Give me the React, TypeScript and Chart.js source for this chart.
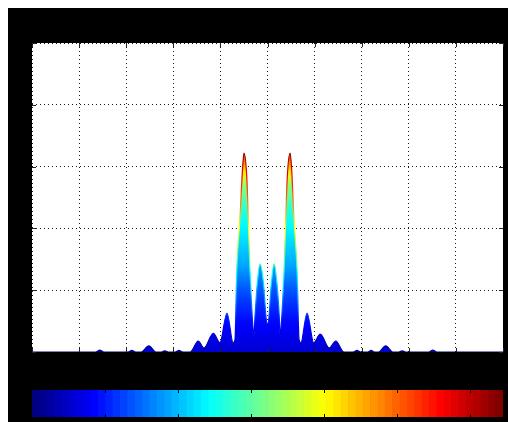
import React, { useEffect, useRef } from "react";
import { Chart, registerables } from "chart.js";

Chart.register(...registerables);

// Profile (x position, height)
const X_VALUES = [
  -5.0, -3.64, -3.56, -3.48, -2.96, -2.88, -2.8, -2.68, -2.52, -2.37, -2.25, -2.18, -2.11,
  -1.96, -1.88, -1.8, -1.64, -1.47, -1.35, -1.15, -1.01, -0.86, -0.73, -0.69, -0.654, -0.584,
  -0.527, -0.499, -0.44, -0.37, -0.31, -0.29, -0.265, -0.216, -0.16, -0.09, -0.03, 0.0,
  0.03, 0.08, 0.14, 0.2, 0.25, 0.27, 0.29, 0.35, 0.42, 0.48, 0.51, 0.56, 0.63, 0.67, 0.71,
  0.84, 0.98, 1.12, 1.31, 1.45, 1.62, 1.82, 1.9, 1.98, 2.13, 2.2, 2.27, 2.36, 2.51, 2.66,
  2.79, 2.86, 2.93, 3.43, 3.51, 3.59, 5.0,
];
const Y_VALUES = [
  0, 0, 0.006, 0, 0, 0.005, 0, 0, 0.02, 0, 0, 0.004, 0,
  0, 0.005, 0, 0, 0.035, 0.013, 0.06, 0.03, 0.126, 0.03, 0.04, 0.256, 0.437,
  0.599, 0.644, 0.566, 0.256, 0.081, 0.05, 0.113, 0.224, 0.285, 0.23, 0.11, 0.09,
  0.11, 0.22, 0.285, 0.224, 0.113, 0.05, 0.081, 0.256, 0.566, 0.644, 0.599, 0.437, 0.256, 0.04, 0.03,
  0.126, 0.03, 0.058, 0.013, 0.035, 0, 0, 0.005, 0, 0, 0.005, 0, 0, 0.02, 0,
  0, 0.004, 0, 0, 0.006, 0, 0,
];

const X_MIN = -5;
const X_MAX = 5;
const X_STEP = 1;
const Y_MIN = 0;
const Y_MAX = 1;
const Y_STEP = 0.2;

const COLOR_MAX = 0.645;
const COLORBAR_TICKS = [0.1, 0.2, 0.3, 0.4, 0.5, 0.6];
const COLORMAP_LEVELS = 64;

// shading curve for the surface fill (height fraction -> colormap position)
const FILL_SHADE: [number, number][] = [
  [0, 0.08], [0.15, 0.13], [0.3, 0.2], [0.44, 0.29], [0.7, 0.4], [0.85, 0.53], [1, 0.85],
];

function clamp(v: number) {
  return Math.max(0, Math.min(1, v));
}
function jet(t: number) {
  const r = clamp(Math.min(4 * t - 1.5, -4 * t + 4.5));
  const g = clamp(Math.min(4 * t - 0.5, -4 * t + 3.5));
  const b = clamp(Math.min(4 * t + 0.5, -4 * t + 2.5));
  return `rgb(${Math.round(r * 255)},${Math.round(g * 255)},${Math.round(b * 255)})`;
}
function shade(t: number) {
  for (let i = 1; i < FILL_SHADE.length; i++) {
    const [a0, b0] = FILL_SHADE[i - 1];
    const [a1, b1] = FILL_SHADE[i];
    if (t <= a1) return b0 + ((t - a0) / (a1 - a0)) * (b1 - b0);
  }
  return FILL_SHADE[FILL_SHADE.length - 1][1];
}

function verticalGradient(chart: any, fn: (t: number) => string) {
  const area = chart.chartArea;
  if (!area) return "blue";
  const ys = chart.scales.y;
  const y0 = ys.getPixelForValue(0);
  const y1 = ys.getPixelForValue(COLOR_MAX);
  const g = chart.ctx.createLinearGradient(0, y0, 0, y1);
  const n = 32;
  for (let i = 0; i <= n; i++) {
    const t = i / n;
    g.addColorStop(t, fn(t));
  }
  return g;
}

const backgroundPlugin = {
  id: "figBackground",
  beforeDraw(chart: any) {
    const { ctx, chartArea, width, height } = chart;
    ctx.save();
    ctx.fillStyle = "#000";
    ctx.fillRect(0, 0, width, height);
    if (chartArea && chart.config.options.plugins.figBackground?.white) {
      ctx.fillStyle = "#fff";
      ctx.fillRect(chartArea.left, chartArea.top, chartArea.right - chartArea.left, chartArea.bottom - chartArea.top);
    }
    ctx.restore();
  },
};

const axisTicksPlugin = {
  id: "boxTicks",
  afterDatasetsDraw(chart: any) {
    const { ctx, chartArea: a } = chart;
    ctx.save();
    ctx.strokeStyle = "#222";
    ctx.lineWidth = 1;
    const xs = chart.scales.x;
    const ys = chart.scales.y;
    for (let v = X_MIN; v <= X_MAX; v += X_STEP) {
      const px = Math.round(xs.getPixelForValue(v)) + 0.5;
      ctx.beginPath();
      ctx.moveTo(px, a.bottom);
      ctx.lineTo(px, a.bottom - 4);
      ctx.moveTo(px, a.top);
      ctx.lineTo(px, a.top + 4);
      ctx.stroke();
    }
    for (let i = 0; i <= Math.round((Y_MAX - Y_MIN) / Y_STEP); i++) {
      const py = Math.round(ys.getPixelForValue(Y_MIN + i * Y_STEP)) + 0.5;
      ctx.beginPath();
      ctx.moveTo(a.left, py);
      ctx.lineTo(a.left + 4, py);
      ctx.moveTo(a.right, py);
      ctx.lineTo(a.right - 4, py);
      ctx.stroke();
    }
    ctx.restore();
  },
};

const colorbarTicksPlugin = {
  id: "cbTicks",
  afterDatasetsDraw(chart: any) {
    const { ctx, chartArea: a } = chart;
    const xs = chart.scales.x;
    ctx.save();
    ctx.strokeStyle = "#000";
    ctx.lineWidth = 1;
    COLORBAR_TICKS.forEach((v) => {
      const px = Math.round(xs.getPixelForValue(v)) + 0.5;
      ctx.beginPath();
      ctx.moveTo(px, a.top);
      ctx.lineTo(px, a.top + 3);
      ctx.moveTo(px, a.bottom);
      ctx.lineTo(px, a.bottom - 3);
      ctx.stroke();
    });
    ctx.restore();
  },
};

export default function App() {
  const mainRef = useRef<HTMLCanvasElement>(null);
  const barRef = useRef<HTMLCanvasElement>(null);

  useEffect(() => {
    const prevMargin = document.body.style.margin;
    const prevOverflow = document.documentElement.style.overflow;
    document.body.style.margin = "8px 0 0 8px";
    document.documentElement.style.overflow = "hidden";

    const gridStyle = {
      color: "rgba(0,0,0,0.9)",
      drawTicks: false,
      lineWidth: 1,
    };
    const main = new Chart(mainRef.current as HTMLCanvasElement, {
      type: "line",
      data: {
        datasets: [
          {
            data: X_VALUES.map((x, i) => ({ x, y: Y_VALUES[i] })),
            fill: "origin",
            cubicInterpolationMode: "monotone",
            pointRadius: 0,
            borderWidth: 1.2,
            backgroundColor: (c: any) => verticalGradient(c.chart, (t) => jet(shade(t))),
            borderColor: (c: any) => verticalGradient(c.chart, (t) => jet(t)),
          } as any,
        ],
      },
      options: {
        responsive: false,
        animation: false,
        layout: { padding: { left: 24, top: 35, right: 5, bottom: 26 } },
        plugins: {
          legend: { display: false },
          tooltip: { enabled: false },
          figBackground: { white: true },
        } as any,
        scales: {
          x: {
            type: "linear",
            min: X_MIN,
            max: X_MAX,
            ticks: { display: false, stepSize: X_STEP },
            grid: gridStyle,
            border: { display: false, dash: [1, 3] },
          },
          y: {
            type: "linear",
            min: Y_MIN,
            max: Y_MAX,
            ticks: { display: false, stepSize: Y_STEP },
            grid: gridStyle,
            border: { display: false, dash: [1, 3] },
          },
        },
      },
      plugins: [backgroundPlugin, axisTicksPlugin],
    });

    const binWidth = COLOR_MAX / COLORMAP_LEVELS;
    const bins = Array.from({ length: COLORMAP_LEVELS }, (_, i) => ({ x: (i + 0.5) * binWidth, y: 1 }));
    const binColors = Array.from({ length: COLORMAP_LEVELS }, (_, i) => jet(i / (COLORMAP_LEVELS - 1)));
    const bar = new Chart(barRef.current as HTMLCanvasElement, {
      type: "bar",
      data: {
        datasets: [
          {
            data: bins,
            backgroundColor: binColors,
            borderWidth: 0,
            barPercentage: 1,
            categoryPercentage: 1,
          } as any,
        ],
      },
      options: {
        responsive: false,
        animation: false,
        layout: { padding: { left: 24, top: 12, right: 5, bottom: 5 } },
        plugins: {
          legend: { display: false },
          tooltip: { enabled: false },
          figBackground: { white: false },
        } as any,
        scales: {
          x: { type: "linear", min: 0, max: COLOR_MAX, offset: false, display: false },
          y: { min: 0, max: 1, display: false },
        },
      },
      plugins: [backgroundPlugin, colorbarTicksPlugin],
    });

    return () => {
      main.destroy();
      bar.destroy();
      document.body.style.margin = prevMargin;
      document.documentElement.style.overflow = prevOverflow;
    };
  }, []);

  return (
    <div style={{ width: 500, lineHeight: 0 }}>
      <canvas ref={mainRef} width={500} height={370} style={{ display: "block" }} />
      <canvas ref={barRef} width={500} height={44} style={{ display: "block" }} />
    </div>
  );
}
